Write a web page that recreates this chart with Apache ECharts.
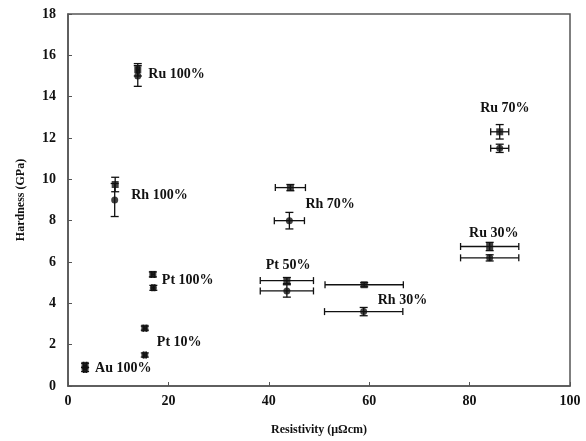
<!DOCTYPE html>
<html><head><meta charset="utf-8">
<script src="https://cdn.jsdelivr.net/npm/echarts@6/dist/echarts.min.js"></script>
<style>html,body{margin:0;padding:0;background:#fff}#c{width:586px;height:441px}</style>
</head><body><div id="c"></div>
<script>
// [resistivity, hardness, xErr, yErr]
const squarePts = [
  [13.9, 15.3, 0.3, 0.3],
  [9.4, 9.75, 0, 0.35],
  [16.9, 5.4, 0.3, 0.12],
  [15.3, 2.8, 0.3, 0.1],
  [3.4, 1.0, 0.3, 0.1],
  [44.3, 9.6, 3.0, 0.15],
  [43.6, 5.1, 5.3, 0.15],
  [59.0, 4.9, 7.8, 0.1],
  [86.0, 12.3, 1.8, 0.35],
  [84.0, 6.75, 5.8, 0.2]
];
const circlePts = [
  [13.9, 15.0, 0, 0.5],
  [9.3, 9.0, 0, 0.8],
  [17.0, 4.75, 0.3, 0.12],
  [15.3, 1.5, 0.3, 0.1],
  [3.4, 0.8, 0.3, 0.1],
  [44.1, 8.0, 3.0, 0.4],
  [43.6, 4.6, 5.3, 0.3],
  [58.9, 3.6, 7.8, 0.2],
  [86.0, 11.5, 1.8, 0.2],
  [84.0, 6.2, 5.8, 0.15]
];
const labelText = ['Ru 100%','Rh 100%','Pt 100%','Pt 10%','Au 100%','Rh 70%','Pt 50%','Rh 30%','Ru 70%','Ru 30%'];
const labelX = [16.0, 12.6, 18.7, 17.7, 5.4, 47.3, 39.4, 61.7, 82.1, 79.9];
const labelY = [15.1, 9.2, 5.1, 2.1, 0.83, 8.78, 5.83, 4.12, 13.44, 7.39];

const FONT = '"Liberation Serif", "DejaVu Serif", serif';
const INK = '#111';

function errRender(params, api) {
  const x = api.value(0), y = api.value(1), xe = api.value(2), ye = api.value(3);
  const children = [];
  const st = {stroke: INK, lineWidth: 1.3};
  if (xe > 0) {
    const a = api.coord([x - xe, y]), b = api.coord([x + xe, y]);
    children.push({type:'line', shape:{x1:a[0],y1:a[1],x2:b[0],y2:b[1]}, style:st});
    children.push({type:'line', shape:{x1:a[0],y1:a[1]-3.5,x2:a[0],y2:a[1]+3.5}, style:st});
    children.push({type:'line', shape:{x1:b[0],y1:b[1]-3.5,x2:b[0],y2:b[1]+3.5}, style:st});
  }
  if (ye > 0) {
    const a = api.coord([x, y - ye]), b = api.coord([x, y + ye]);
    children.push({type:'line', shape:{x1:a[0],y1:a[1],x2:b[0],y2:b[1]}, style:st});
    children.push({type:'line', shape:{x1:a[0]-4,y1:a[1],x2:a[0]+4,y2:a[1]}, style:st});
    children.push({type:'line', shape:{x1:b[0]-4,y1:b[1],x2:b[0]+4,y2:b[1]}, style:st});
  }
  return {type:'group', children};
}

const chart = echarts.init(document.getElementById('c'), null, {renderer:'canvas'});
chart.setOption({
  animation: false,
  backgroundColor: '#fff',
  grid: {left: 68, right: 16, top: 14, bottom: 51, show: true, borderColor: '#555', borderWidth: 1.5},
  xAxis: {
    type: 'value', min: 0, max: 100, interval: 20,
    name: 'Resistivity (μΩcm)', nameLocation: 'middle', nameGap: 38,
    nameTextStyle: {fontFamily: FONT, fontSize: 12, fontWeight: 'bold', color: INK},
    axisLine: {lineStyle: {color: '#555', width: 1.5}},
    axisTick: {inside: true, length: 4, lineStyle: {color: '#555'}},
    axisLabel: {fontFamily: FONT, fontSize: 14, fontWeight: 'bold', color: INK, margin: 8},
    splitLine: {show: false}
  },
  yAxis: {
    type: 'value', min: 0, max: 18, interval: 2,
    name: 'Hardness (GPa)', nameLocation: 'middle', nameGap: 41,
    nameTextStyle: {fontFamily: FONT, fontSize: 12, fontWeight: 'bold', color: INK},
    axisLine: {lineStyle: {color: '#555', width: 1.5}},
    axisTick: {inside: true, length: 4, lineStyle: {color: '#555'}},
    axisLabel: {fontFamily: FONT, fontSize: 14, fontWeight: 'bold', color: INK, margin: 12},
    splitLine: {show: false}
  },
  series: [
    {type:'custom', renderItem: errRender, data: squarePts, z: 2, silent: true},
    {type:'custom', renderItem: errRender, data: circlePts, z: 2, silent: true},
    {type:'scatter', data: squarePts.map(p => [p[0], p[1]]), symbol: 'rect', symbolSize: 7,
     itemStyle: {color: INK}, z: 3},
    {type:'scatter', data: circlePts.map(p => [p[0], p[1]]), symbol: 'circle', symbolSize: 7,
     itemStyle: {color: INK}, z: 3},
    {type:'custom', z: 4, silent: true,
     data: labelText.map((t, i) => [labelX[i], labelY[i], i]),
     renderItem: function(params, api) {
       const p = api.coord([api.value(0), api.value(1)]);
       return {type:'text', x: p[0], y: p[1],
         style: {text: labelText[api.value(2)], fill: INK,
                 font: 'bold 14px ' + FONT, textAlign: 'left', textVerticalAlign: 'middle'}};
     }}
  ]
});
</script></body></html>
